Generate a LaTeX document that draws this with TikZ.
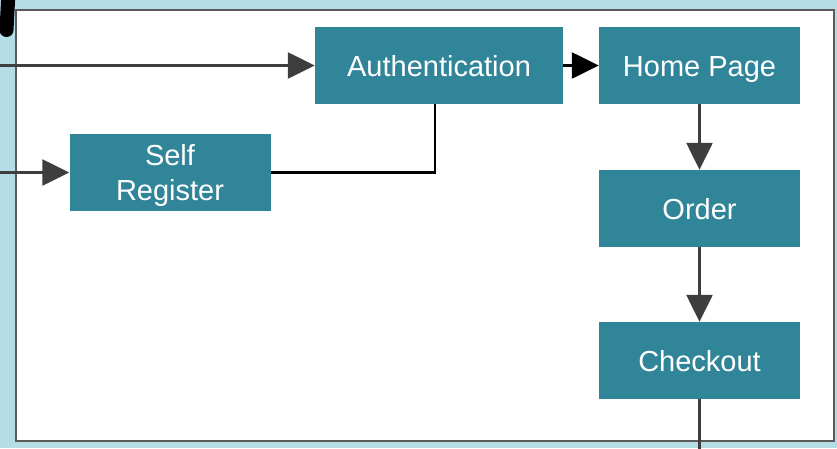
\documentclass[tikz,border=0pt]{standalone}
\usepackage{fontspec}
\setmainfont{Liberation Sans}
\usetikzlibrary{arrows.meta}
\definecolor{skyback}{RGB}{180,221,229}
\definecolor{tealbox}{RGB}{49,133,153}
\definecolor{darkline}{RGB}{62,62,62}
\definecolor{framegray}{RGB}{90,90,90}

\begin{document}
\begin{tikzpicture}[x=1pt, y=-1pt,
  box/.style={fill=tealbox, text=white, minimum width=201pt, minimum height=77pt,
    inner sep=0pt, align=center, text height=21pt, text depth=0pt,
    font=\fontsize{29}{35}\selectfont},
  flow/.style={draw=darkline, line width=2.5pt, -{Triangle[length=27pt,width=26pt]}},
  link/.style={draw=darkline, line width=2.5pt}]
        % page and frame
        \useasboundingbox (0,0) rectangle (837,448);
        \fill[skyback] (0,0) rectangle (837,448);
        \draw[framegray, fill=white, line width=2pt] (16,10) rectangle (834,441);
        \draw[line width=14pt, line cap=round] (8.5,-8) -- (6.5,30);

        \node[box, text height=, text depth=-8pt] (self) at (170,172.5) {Self\\Register};
        \node[box, minimum width=248pt] (auth) at (439,65.5) {Authentication};
        \node[box] (home) at (699.5,65.5) {Home Page};
        \node[box] (order) at (699.5,208.5) {Order};
        \node[box] (check) at (699.5,360.5) {Checkout};

        \coordinate (inauth) at (0,65.5);
        \coordinate (inself) at (0,172.5);
        \coordinate (outcheck) at (699.5,452);

        \draw[flow] (inauth) -- (auth);
        \draw[flow] (inself) -- (self);
        \draw[link, black] (self) -| ([xshift=-4pt]auth.south);
        \draw[flow, draw=black] (auth) -- (home);
        \draw[flow] (home) -- (order);
        \draw[flow] (order) -- (check);
        \draw[link] (check) -- (outcheck);
      \end{tikzpicture}
\end{document}
